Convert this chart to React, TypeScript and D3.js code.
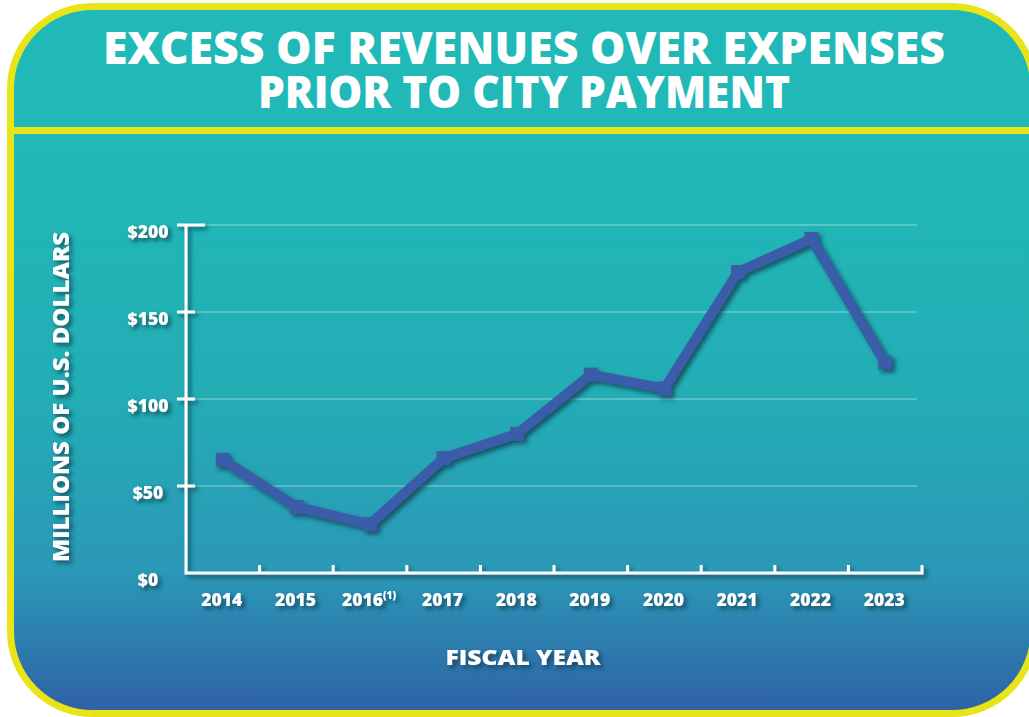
import { useEffect, useRef } from 'react'
import * as d3 from 'd3'

const years = ['2014', '2015', '2016', '2017', '2018', '2019', '2020', '2021', '2022', '2023']
const values = [65, 38, 28, 66, 80, 114, 106, 173, 192, 121]
const yTicks = [0, 50, 100, 150, 200]
const titleLines = ['EXCESS OF REVENUES OVER EXPENSES', 'PRIOR TO CITY PAYMENT']

export default function App() {
  const svgRef = useRef<SVGSVGElement | null>(null)

  useEffect(() => {
    const width = 1029
    const height = 717
    const font = "'Open Sans', 'DejaVu Sans', sans-serif"

    const svg = d3.select(svgRef.current)
    svg.selectAll('*').remove()
    svg.attr('width', width).attr('height', height)

    const defs = svg.append('defs')
    const grad = defs.append('linearGradient')
      .attr('id', 'bg')
      .attr('gradientUnits', 'userSpaceOnUse')
      .attr('x1', 0).attr('y1', 0).attr('x2', 0).attr('y2', height)
    const stops: [number, string][] = [[0, '#20b9b7'], [0.2, '#20b9b7'], [0.55, '#23adb5'], [0.8, '#2b98b7'], [1, '#2f5fa5']]
    stops.forEach(([o, c]) => grad.append('stop').attr('offset', o).attr('stop-color', c))

    const f = defs.append('filter').attr('id', 'shadow')
      .attr('x', '-20%').attr('y', '-20%').attr('width', '140%').attr('height', '140%')
    f.append('feDropShadow')
      .attr('dx', 3).attr('dy', 3).attr('stdDeviation', 2.2)
      .attr('flood-color', '#0a3a48').attr('flood-opacity', 0.75)

    // card
    svg.append('rect')
      .attr('x', 10.5).attr('y', 6.5)
      .attr('width', 1023.5).attr('height', 707)
      .attr('rx', 82).attr('ry', 82)
      .attr('fill', 'url(#bg)')
      .attr('stroke', '#e8e418')
      .attr('stroke-width', 7)
    svg.append('line')
      .attr('x1', 10).attr('x2', width)
      .attr('y1', 130.5).attr('y2', 130.5)
      .attr('stroke', '#e8e418').attr('stroke-width', 7)

    // title
    const titleBase = [64, 108]
    const titleLen = [842, 532]
    titleLines.forEach((t, i) => {
      svg.append('text')
        .attr('x', 524).attr('y', titleBase[i])
        .attr('text-anchor', 'middle')
        .attr('fill', '#fff')
        .attr('font-family', font)
        .attr('font-weight', 800)
        .attr('font-size', 44)
        .attr('textLength', titleLen[i])
        .attr('lengthAdjust', 'spacingAndGlyphs')
        .text(t)
    })

    const x = d3.scaleBand<string>().domain(years).range([186, 922])
    const y = d3.scaleLinear().domain([0, 200]).range([573, 225])

    // gridlines
    yTicks.filter(v => v > 0).forEach(v => {
      svg.append('line')
        .attr('x1', 186).attr('x2', 917)
        .attr('y1', y(v)).attr('y2', y(v))
        .attr('stroke', '#ffffff').attr('stroke-opacity', 0.5).attr('stroke-width', 1)
    })

    // axes
    const axis = svg.append('g').attr('filter', 'url(#shadow)')
      .attr('stroke', '#fff').attr('stroke-width', 3).attr('fill', 'none')
    const xEnd = x.range()[1]
    axis.append('path')
      .attr('d', `M186,${y(200)}V${y(0)}H${xEnd}V${y(0) - 8}`)
      .attr('stroke-linejoin', 'miter')
    yTicks.filter(v => v > 0).forEach(v => {
      axis.append('line')
        .attr('x1', 177).attr('x2', v === 200 ? 205 : 195)
        .attr('y1', y(v)).attr('y2', y(v))
    })
    years.slice(1).forEach(yr => {
      const xx = x(yr) as number
      axis.append('line')
        .attr('x1', xx).attr('x2', xx)
        .attr('y1', y(0)).attr('y2', y(0) - 8)
    })

    // y labels
    const labels = svg.append('g').attr('filter', 'url(#shadow)')
      .attr('fill', '#fff').attr('font-family', font).attr('font-weight', 800)
    yTicks.forEach(v => {
      labels.append('text')
        .attr('x', 148).attr('y', y(v) + 12.5)
        .attr('text-anchor', 'middle')
        .attr('font-size', 17.5)
        .text(`$${v}`)
    })

    // x labels
    years.forEach(yr => {
      const t = labels.append('text')
        .attr('x', (x(yr) as number) + x.bandwidth() / 2 - 1)
        .attr('y', 606)
        .attr('text-anchor', 'middle')
        .attr('font-size', 17.5)
      t.append('tspan').text(yr)
      if (yr === '2016') {
        t.append('tspan').attr('font-size', 10).attr('dy', -7).text('(1)')
      }
    })

    labels.append('text')
      .attr('transform', 'translate(69,397) rotate(-90)')
      .attr('text-anchor', 'middle')
      .attr('font-size', 22)
      .attr('textLength', 330)
      .attr('lengthAdjust', 'spacingAndGlyphs')
      .text('MILLIONS OF U.S. DOLLARS')

    labels.append('text')
      .attr('x', 523).attr('y', 665)
      .attr('text-anchor', 'middle')
      .attr('font-size', 21)
      .attr('textLength', 155)
      .attr('lengthAdjust', 'spacingAndGlyphs')
      .text('FISCAL YEAR')

    // line
    const cx = (yr: string) => (x(yr) as number) + x.bandwidth() / 2
    const line = d3.line<number>()
      .x((_, i) => cx(years[i]))
      .y(d => y(d))
    const series = svg.append('g').attr('filter', 'url(#shadow)')
    series.append('path')
      .attr('d', line(values))
      .attr('fill', 'none')
      .attr('stroke', '#3a5ca8')
      .attr('stroke-width', 10)
      .attr('stroke-linejoin', 'round')
    values.forEach((v, i) => {
      series.append('rect')
        .attr('x', cx(years[i]) - 7).attr('y', y(v) - 7)
        .attr('width', 14).attr('height', 14)
        .attr('fill', '#3a5ca8')
    })
  }, [])

  return <svg ref={svgRef} style={{ position: 'absolute', left: 0, top: 0 }} />
}
